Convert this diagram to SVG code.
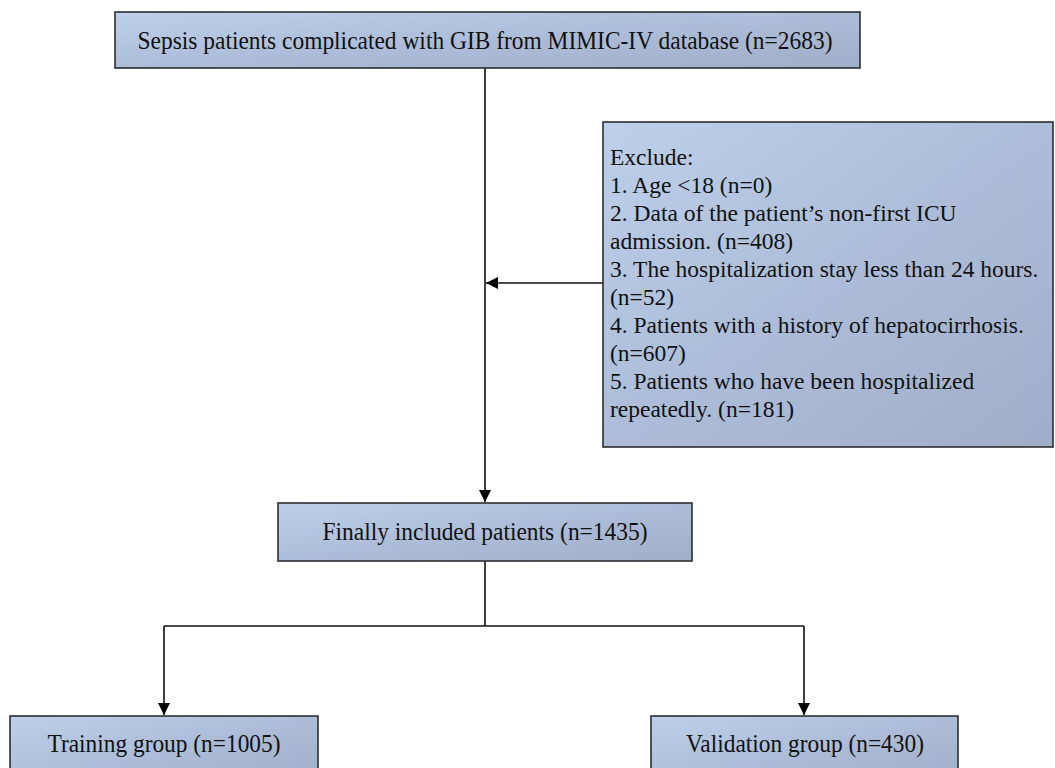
<svg xmlns="http://www.w3.org/2000/svg" width="1055" height="768" viewBox="0 0 1055 768">
<defs>
<linearGradient id="fill" x1="0" y1="0" x2="1" y2="1">
<stop offset="0" stop-color="#bdd0ea"/>
<stop offset="0.5" stop-color="#adbdd9"/>
<stop offset="1" stop-color="#a0adc7"/>
</linearGradient>
<marker id="arr" viewBox="0 0 10 10" refX="10" refY="5" markerWidth="12" markerHeight="12" markerUnits="userSpaceOnUse" orient="auto">
<path d="M0,0 L10,5 L0,10 z" fill="#000"/>
</marker>
</defs>
<style>
.box{fill:url(#fill);stroke:#2e2e33;stroke-width:1.6}
.t{font-family:"Liberation Serif","Times New Roman",serif;fill:#111;font-size:26px}
.e{font-family:"Liberation Serif","Times New Roman",serif;fill:#111;font-size:23.5px}
.c{fill:none;stroke:#111;stroke-width:1.6}
</style>
<rect width="1055" height="768" fill="#fff"/>
<g id="connectors">
<line class="c" x1="485" y1="68" x2="485" y2="502" marker-end="url(#arr)"/>
<line class="c" x1="603" y1="283" x2="486" y2="283" marker-end="url(#arr)"/>
<polyline class="c" points="485,561 485,626"/>
<line class="c" x1="164" y1="626" x2="804" y2="626"/>
<line class="c" x1="164" y1="626" x2="164" y2="715" marker-end="url(#arr)"/>
<line class="c" x1="804" y1="626" x2="804" y2="715" marker-end="url(#arr)"/>
</g>
<g id="source">
<rect class="box" x="115" y="12" width="745" height="56"/>
<text class="t" x="485" y="49" text-anchor="middle" textLength="695" lengthAdjust="spacingAndGlyphs">Sepsis patients complicated with GIB from MIMIC-IV database (n=2683)</text>
</g>
<g id="exclude">
<rect class="box" x="603" y="122" width="450" height="325"/>
<text class="e" x="610" y="165">Exclude:</text>
<text class="e" x="610" y="193">1. Age &lt;18 (n=0)</text>
<text class="e" x="610" y="221">2. Data of the patient’s non-first ICU</text>
<text class="e" x="610" y="249">admission. (n=408)</text>
<text class="e" x="610" y="277">3. The hospitalization stay less than 24 hours.</text>
<text class="e" x="610" y="305">(n=52)</text>
<text class="e" x="610" y="333">4. Patients with a history of hepatocirrhosis.</text>
<text class="e" x="610" y="361">(n=607)</text>
<text class="e" x="610" y="389">5. Patients who have been hospitalized</text>
<text class="e" x="610" y="417">repeatedly. (n=181)</text>
</g>
<g id="included">
<rect class="box" x="278" y="503" width="414" height="58"/>
<text class="t" x="485" y="540" text-anchor="middle" textLength="325" lengthAdjust="spacingAndGlyphs">Finally included patients (n=1435)</text>
</g>
<g id="training">
<rect class="box" x="10" y="716" width="308" height="70"/>
<text class="t" x="164" y="752" text-anchor="middle" textLength="233" lengthAdjust="spacingAndGlyphs">Training group (n=1005)</text>
</g>
<g id="validation">
<rect class="box" x="651" y="716" width="307" height="70"/>
<text class="t" x="805" y="752" text-anchor="middle" textLength="238" lengthAdjust="spacingAndGlyphs">Validation group (n=430)</text>
</g>
</svg>
